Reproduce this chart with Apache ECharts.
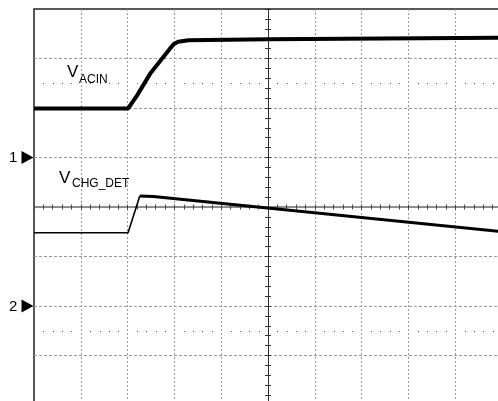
<!DOCTYPE html>
<html><head><meta charset="utf-8">
<script src="https://cdn.jsdelivr.net/npm/echarts@6/dist/echarts.min.js"></script>
<style>html,body{margin:0;padding:0;background:#fff}#c{width:498px;height:401px}</style>
</head><body><div id="c"></div>
<script>
// time axis in divisions (-5..5), voltage in divisions (-4..4)
const acinTime = [-5, -2.99, -2.8, -2.52, -2.02, -1.92, -1.7, 0, 5];
const acinVolt = [1.99, 1.99, 2.25, 2.69, 3.29, 3.34, 3.37, 3.39, 3.42];
const chgPreTime = [-5, -2.99, -2.74];
const chgPreVolt = [-0.52, -0.52, 0.22];
const chgPostTime = [-2.74, -2.45, 5];
const chgPostVolt = [0.22, 0.21, -0.50];
const dotLevels = [2.5, -2.5];
const markerLevels = [1, -2];
const markerLabels = ['1', '2'];

const zip = (a, b) => a.map((v, i) => [v, b[i]]);
const chart = echarts.init(document.getElementById('c'), null, {renderer: 'canvas'});
const FONT = '"Liberation Sans", Arial, sans-serif';

const xBase = {
  type: 'value', min: -5, max: 5, interval: 1,
  axisLabel: {show: false},
  axisLine: {show: true, onZero: true, onZeroAxisIndex: 0, lineStyle: {color: '#888', width: 1.5}},
  axisTick: {show: true, length: 2.5, lineStyle: {color: '#444'}},
  minorTick: {show: true, splitNumber: 5, length: 2.5, lineStyle: {color: '#444'}},
  splitLine: {show: false}
};
const yBase = {
  type: 'value', min: -4, max: 4, interval: 1,
  axisLabel: {show: false},
  axisLine: {show: true, onZero: true, onZeroAxisIndex: 0, lineStyle: {color: '#333', width: 1}},
  axisTick: {show: true, length: 3, lineStyle: {color: '#333'}},
  minorTick: {show: true, splitNumber: 5, length: 3, lineStyle: {color: '#333'}},
  splitLine: {show: false}
};

chart.setOption({
  animation: false,
  backgroundColor: '#fff',
  grid: {left: 34, top: 9, width: 468, height: 396, containLabel: false, outerBoundsMode: 'none',
    show: true, borderColor: '#222', borderWidth: 1.5, backgroundColor: 'transparent'},
  xAxis: [
    Object.assign({}, xBase, {position: 'bottom',
      splitLine: {show: true, showMinLine: false, lineStyle: {type: [2, 2], color: '#999', width: 1}}}),
    Object.assign({}, xBase, {position: 'top'})
  ],
  yAxis: [
    Object.assign({}, yBase, {position: 'left',
      splitLine: {show: true, showMaxLine: false, lineStyle: {type: [3, 2], color: '#999', width: 1}}}),
    Object.assign({}, yBase, {position: 'right'})
  ],
  series: [
    {type: 'line', data: zip(acinTime, acinVolt), symbol: 'none', lineStyle: {color: '#000', width: 4}, z: 5},
    {type: 'line', data: zip(chgPreTime, chgPreVolt), symbol: 'none', lineStyle: {color: '#000', width: 1.6}, z: 5},
    {type: 'line', data: zip(chgPostTime, chgPostVolt), symbol: 'none', lineStyle: {color: '#000', width: 3}, z: 5}
  ]
});

const gx = chart.convertToPixel({xAxisIndex: 0}, -5);
const graphics = [];
// dotted reference levels: one dot at every minor division between grid lines
dotLevels.forEach((lv, i) => {
  const py = Math.round(chart.convertToPixel({yAxisIndex: 0}, lv));
  for (let k = 1; k < 50; k++) {
    if (k % 5 === 0) continue;
    const px = Math.round(chart.convertToPixel({xAxisIndex: 0}, -5 + k / 5));
    graphics.push({type: 'rect', id: 'd' + i + '_' + k, silent: true,
      shape: {x: px, y: py, width: 1, height: 1}, style: {fill: '#555'}});
  }
});
graphics.push(
  {type: 'text', id: 't1', x: 67, y: 72, style: {text: 'V', font: '17px ' + FONT, fill: '#000', verticalAlign: 'middle'}},
  {type: 'text', id: 't2', x: 79, y: 79.5, style: {text: 'ACIN', font: '12px ' + FONT, fill: '#000', verticalAlign: 'middle'}},
  {type: 'text', id: 't3', x: 59, y: 178, style: {text: 'V', font: '17px ' + FONT, fill: '#000', verticalAlign: 'middle'}},
  {type: 'text', id: 't4', x: 72, y: 183.5, style: {text: 'CHG_DET', font: '12px ' + FONT, fill: '#000', verticalAlign: 'middle'}}
);
markerLevels.forEach((lv, i) => {
  const py = chart.convertToPixel({yAxisIndex: 0}, lv);
  graphics.push({type: 'text', id: 'm' + i, x: 9, y: py + 0.5, style: {text: markerLabels[i], font: '15px ' + FONT, fill: '#000', verticalAlign: 'middle'}});
  graphics.push({type: 'polygon', id: 'p' + i, shape: {points: [[gx - 12.5, py - 6.5], [gx - 0.5, py], [gx - 12.5, py + 6.5]]}, style: {fill: '#000'}});
});
chart.setOption({graphic: graphics});
</script>
</body></html>
